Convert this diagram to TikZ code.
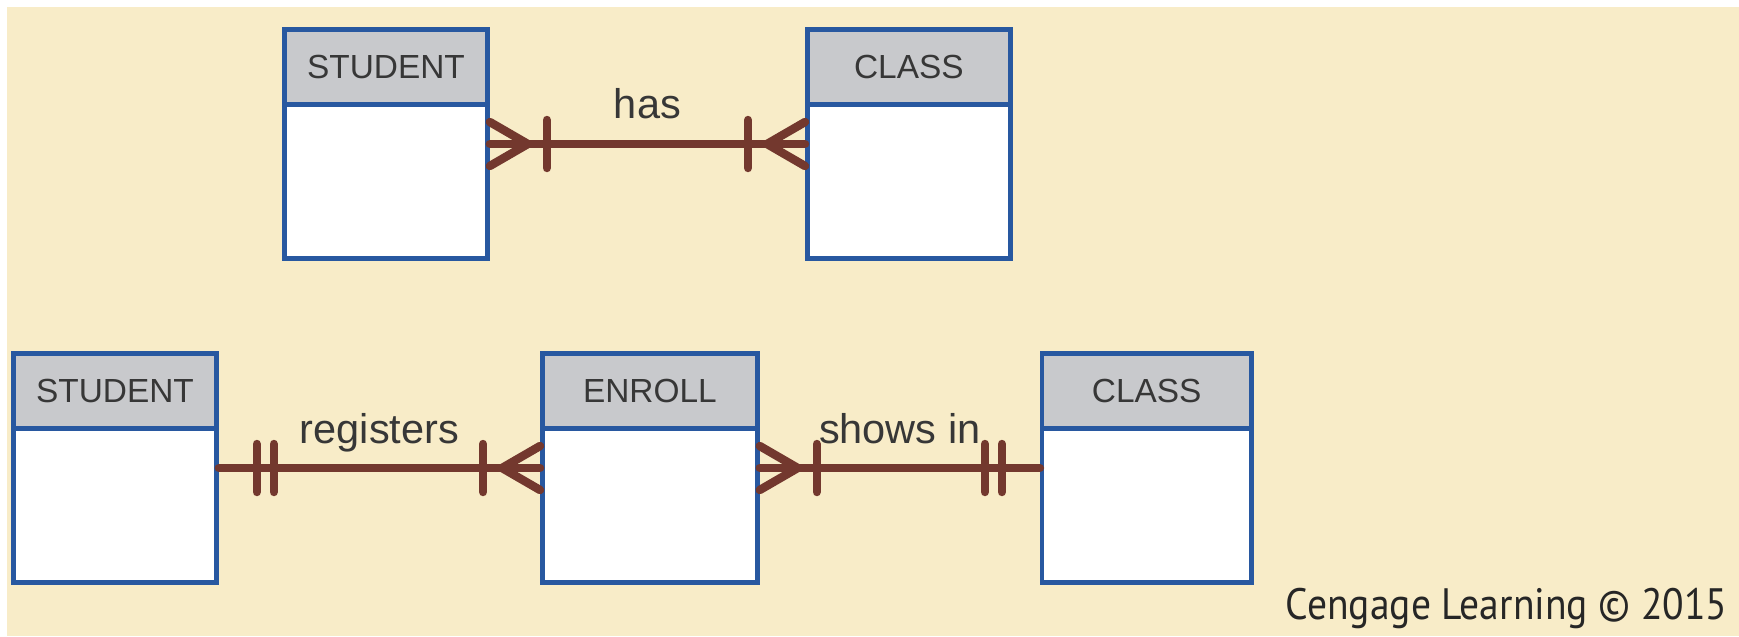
\documentclass[tikz,border=0pt]{standalone}
\usepackage{fontspec}
\setmainfont{Liberation Sans}
\newfontfamily\creditfont{PT Sans}
\usetikzlibrary{positioning}

\definecolor{paper}{RGB}{248,236,200}
\definecolor{boxblue}{RGB}{40,88,160}
\definecolor{headgray}{RGB}{200,201,204}
\definecolor{relbrown}{RGB}{115,56,46}
\definecolor{inkgray}{RGB}{55,55,55}

\begin{document}
\begin{tikzpicture}[
                x=0.01cm, y=-0.01cm,
                entity/.style={draw=boxblue,line width=1.3pt,fill=white,inner sep=0pt,
                    minimum width=2.03cm,minimum height=2.29cm},
                header/.style={draw=boxblue,line width=1.3pt,fill=headgray,inner sep=0pt,
                    minimum width=2.03cm,minimum height=0.75cm,anchor=north,
                    text=inkgray,font=\fontsize{9.5}{9.5}\selectfont},
                rel/.style={draw=relbrown,line width=2.4pt,line cap=round},
                rellabel/.style={text=inkgray,inner sep=0pt,text depth=0pt,
                    font=\fontsize{11.8}{12}\selectfont},
                crow/.pic={\draw[rel] (0,-22) -- (38,0) -- (0,22);},
                onebar/.pic={\draw[rel] (57,-24) -- (57,24);},
                twobar/.pic={\draw[rel] (38,-24) -- (38,24) (55,-24) -- (55,24);}
            ]
                \useasboundingbox (0,0) rectangle (1739,636);
                \fill[paper] (7,7) rectangle (1739,636);

                % one-to-many both ways
                \node (s1) [entity] at (386,144) {};
                \node (c1) [entity,right=3.15cm of s1] {};
                \node (s1h) [header] at (s1.north) {STUDENT};
                \node (c1h) [header] at (c1.north) {CLASS};

                % with the bridge entity
                \node (s2) [entity] at (115,468) {};
                \node (e2) [entity,minimum width=2.15cm,right=3.21cm of s2] {};
                \node (c2) [entity,minimum width=2.09cm,right=2.8cm of e2] {};
                \node (s2h) [header] at (s2.north) {STUDENT};
                \node (e2h) [header,minimum width=2.15cm] at (e2.north) {ENROLL};
                \node (c2h) [header,minimum width=2.09cm] at (c2.north) {CLASS};

                \draw[rel] (s1.east) -- node[rellabel,above=0.21cm] (has) {has} (c1.west);
                \path (s1.east) pic {crow} pic {onebar};
                \path (c1.west) pic[xscale=-1] {crow} pic[xscale=-1] {onebar};

                \draw[rel] (s2.east) -- node[rellabel,above=0.2cm] (reg) {registers} (e2.west);
                \path (s2.east) pic {twobar};
                \path (e2.west) pic[xscale=-1] {crow} pic[xscale=-1] {onebar};

                \draw[rel] (e2.east) -- node[rellabel,above=0.2cm] (shows) {shows in} (c2.west);
                \path (e2.east) pic {crow} pic {onebar};
                \path (c2.west) pic[xscale=-1] {twobar};

                \node (credit) [anchor=base east,inner sep=0pt,text=black!85,xscale=0.9,transform shape,
                    font=\creditfont\fontsize{12.5}{13}\selectfont] at (1728,619)
                    {Cengage Learning © 2015};
            \end{tikzpicture}
\end{document}
